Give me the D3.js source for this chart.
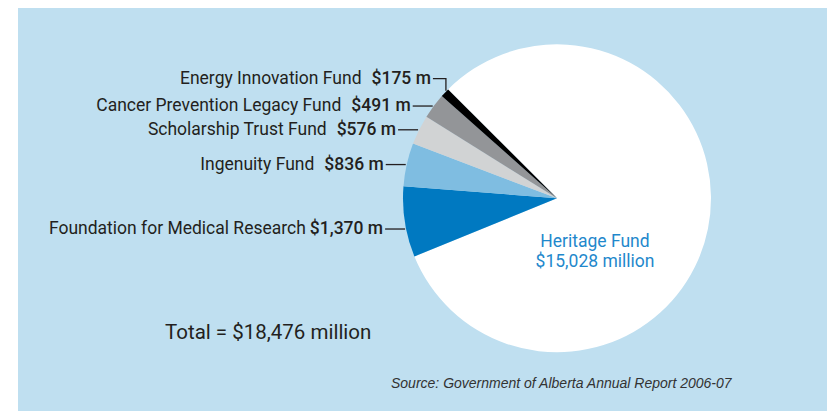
<!DOCTYPE html>
<html>
<head>
<meta charset="utf-8">
<script src="https://cdn.jsdelivr.net/npm/d3@7"></script>
<style>
  html, body { margin: 0; padding: 0; background: #ffffff; }
  svg { display: block; }
</style>
</head>
<body>
<svg id="chart" width="827" height="411"></svg>
<script>
// Alberta endowment funds, 2006-07 (millions of dollars)
const funds = [
  "Heritage Fund",
  "Foundation for Medical Research",
  "Ingenuity Fund",
  "Scholarship Trust Fund",
  "Cancer Prevention Legacy Fund",
  "Energy Innovation Fund"
];
const amounts = [15028, 1370, 836, 576, 491, 175];
const valueLabels = ["$15,028 million", "$1,370 m", "$836 m", "$576 m", "$491 m", "$175 m"];
const sliceColors = ["#ffffff", "#0079c1", "#7fbde1", "#d1d3d4", "#939598", "#000000"];
const sourceNote = "Source: Government of Alberta Annual Report 2006-07";

const svg = d3.select("#chart");
const W = 827, H = 411;
const textColor = "#231f20";
const labelFont = "Roboto, 'Liberation Sans', sans-serif";

// panel background
svg.append("rect")
  .attr("x", 18).attr("y", 8)
  .attr("width", W - 18).attr("height", H - 8)
  .attr("fill", "#bfdff0");

const cx = 557, cy = 198.3, r = 154;

const pie = d3.pie()
  .sort(null)
  .value(d => d)
  .startAngle(-Math.PI / 4)
  .endAngle(1.75 * Math.PI);
const arcs = pie(amounts);
const arc = d3.arc().innerRadius(0).outerRadius(r);

const g = svg.append("g").attr("transform", `translate(${cx},${cy})`);
g.selectAll("path.slice")
  .data(arcs)
  .join("path")
  .attr("class", "slice")
  .attr("d", arc)
  .attr("fill", (d, i) => sliceColors[i]);

// call-out labels for the smaller funds
const last = arcs.length - 1;
arcs.forEach((d, i) => {
  if (i === 0) return;
  // the widest call-out points a little below its slice's middle
  const frac = i === 1 ? 0.4 : 0.5;
  const a = d.startAngle + (d.endAngle - d.startAngle) * frac;
  const ax = cx + r * Math.sin(a);
  const ay = cy - r * Math.cos(a);
  let lineY, lineX0, lineX1;
  if (i === last) {
    // thin slice: elbow leader lifted above the wedge
    lineY = ay - 14;
    lineX1 = ax + 1;
    lineX0 = lineX1 - 13;
    svg.append("path")
      .attr("d", `M${lineX0},${lineY}H${lineX1}V${ay - 2}`)
      .attr("fill", "none")
      .attr("stroke", textColor)
      .attr("stroke-width", 1.3);
  } else {
    lineY = ay;
    lineX1 = ax - 1;
    lineX0 = lineX1 - 20;
    svg.append("line")
      .attr("x1", lineX0).attr("x2", lineX1)
      .attr("y1", lineY).attr("y2", lineY)
      .attr("stroke", textColor)
      .attr("stroke-width", 1.3);
  }
  const t = svg.append("text")
    .attr("x", lineX0 - 2)
    .attr("y", lineY + 5)
    .attr("text-anchor", "end")
    .attr("font-family", labelFont)
    .attr("font-size", 17.5)
    .attr("fill", textColor);
  t.append("tspan").text(funds[i]);
  t.append("tspan")
    .attr("dx", i === 1 ? 4 : 10)
    .attr("font-weight", 500)
    .text(valueLabels[i]);
});

// main slice label
const heritage = svg.append("text")
  .attr("text-anchor", "middle")
  .attr("font-family", labelFont)
  .attr("font-size", 17.5)
  .attr("fill", "#1f88cc");
heritage.append("tspan").attr("x", cx + 38).attr("y", cy + 48.5).text(funds[0]);
heritage.append("tspan").attr("x", cx + 38).attr("y", cy + 68.5)
  .text(valueLabels[0]);

// total
const total = d3.sum(amounts);
svg.append("text")
  .attr("x", 165).attr("y", 339.3)
  .attr("font-family", labelFont)
  .attr("font-size", 20.5)
  .attr("fill", textColor)
  .text(`Total = $${d3.format(",")(total)} million`);

// source note
svg.append("text")
  .attr("x", 391).attr("y", 388.3)
  .attr("font-family", "'Liberation Sans', Arial, sans-serif")
  .attr("font-style", "italic")
  .attr("font-size", 14)
  .attr("fill", "#333333")
  .text(sourceNote);
</script>
</body>
</html>
